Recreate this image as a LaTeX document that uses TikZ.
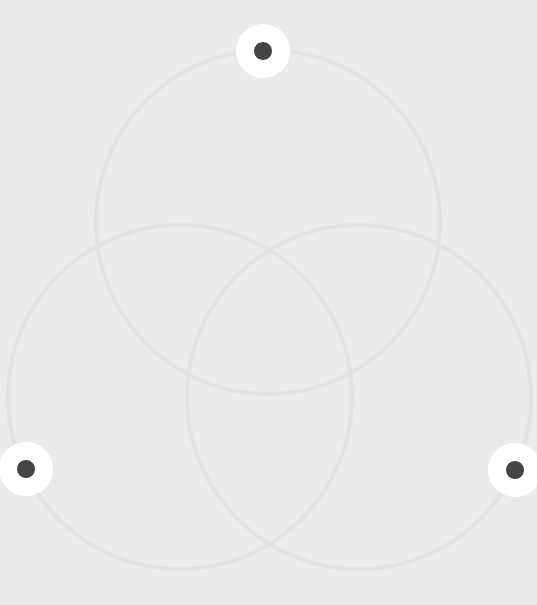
\documentclass[tikz,border=0pt]{standalone}
\definecolor{bg}{HTML}{ECEBEB}
\definecolor{ring}{HTML}{E2E2E2}
\definecolor{dotdark}{HTML}{444444}
\tikzset{
  ringstyle/.style={draw=ring, line width=4pt},
  halo/.style={circle, fill=white, minimum size=54pt, inner sep=0pt},
  core/.style={circle, fill=dotdark, minimum size=18pt, inner sep=0pt}
}
\begin{document}
\begin{tikzpicture}[x=1pt,y=-1pt]
\fill[bg] (0,0) rectangle (537,605);
\useasboundingbox (0,0) rectangle (537,605);
\coordinate (ct) at (268,222);
\coordinate (cl) at (180,397);
\coordinate (cr) at (359,397);
\draw[ringstyle] (ct) circle[radius=172];
\draw[ringstyle] (cl) circle[radius=172];
\draw[ringstyle] (cr) circle[radius=172];
\node[halo] (ht) at (263,51) {};
\node[core] (dt) at (ht) {};
\node[halo] (hl) at (26,469) {};
\node[core] (dl) at (hl) {};
\node[halo] (hr) at (515,470) {};
\node[core] (dr) at (hr) {};
\end{tikzpicture}
\end{document}
